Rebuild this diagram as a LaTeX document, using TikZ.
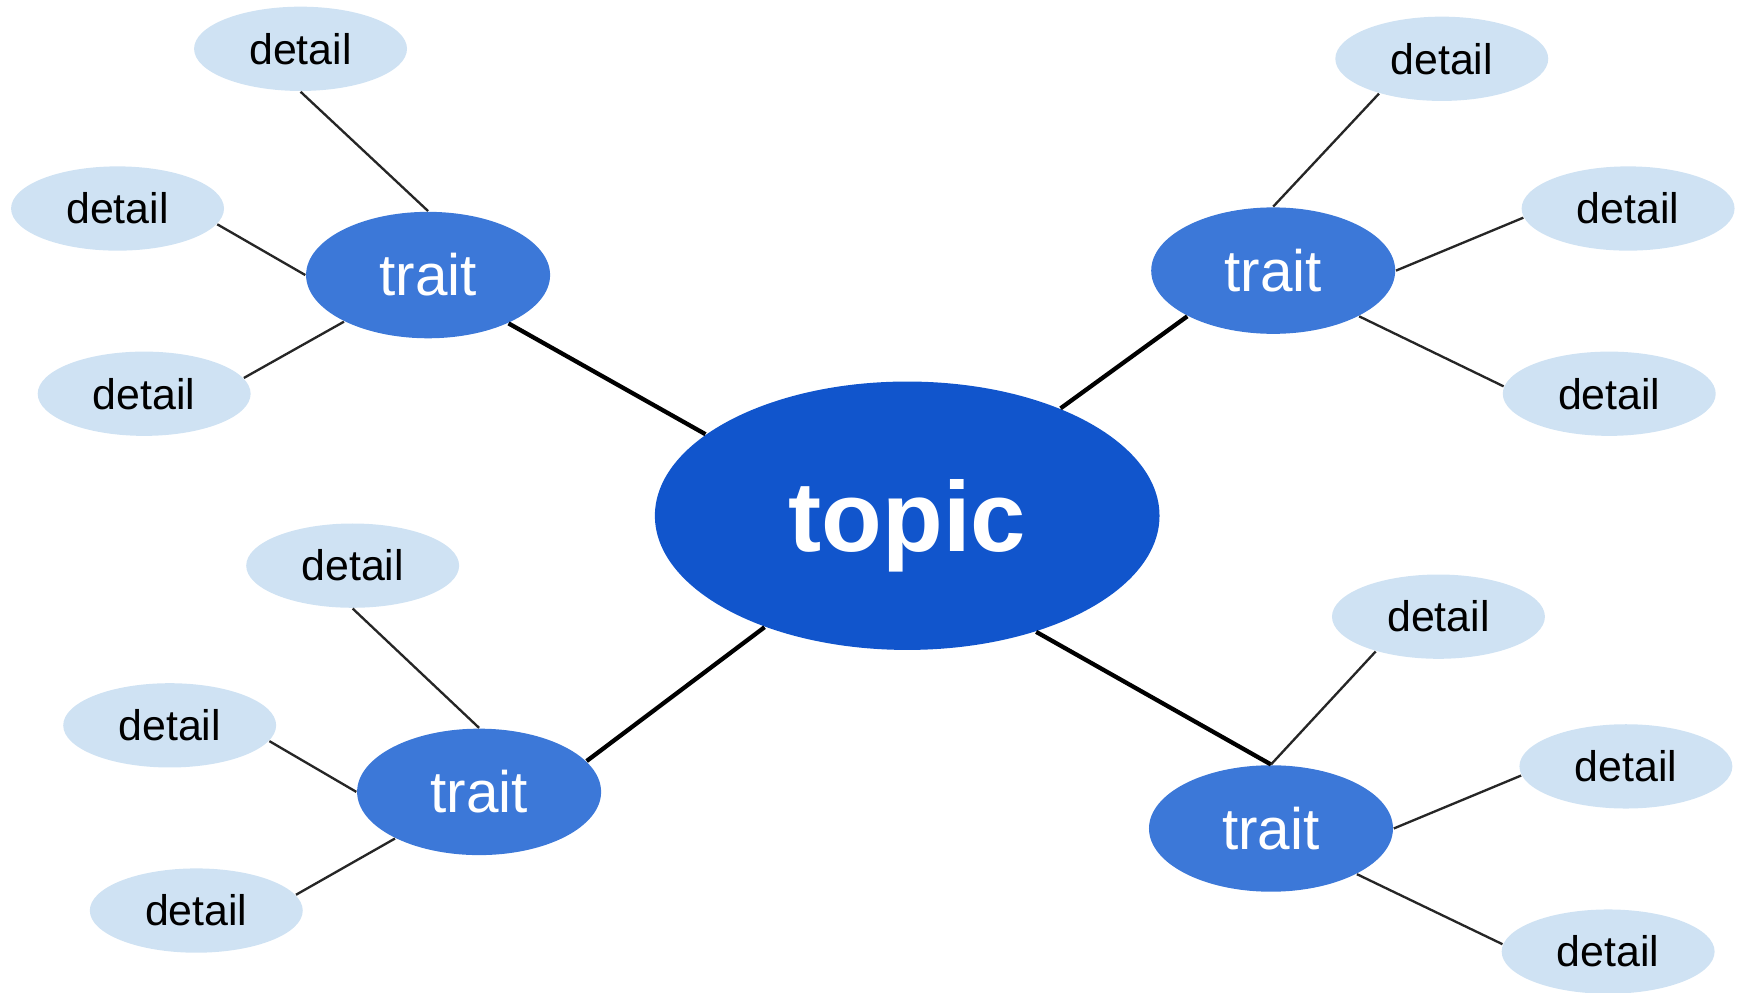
\documentclass[tikz,border=0pt]{standalone}
\usepackage{fontspec}
\setmainfont{Liberation Sans}
\usetikzlibrary{shapes.geometric, positioning}
\definecolor{topicblue}{HTML}{1155CC}
\definecolor{traitblue}{HTML}{3C78D8}
\definecolor{detailblue}{HTML}{CFE2F3}
\tikzstyle{maintopic} = [ellipse, minimum width=4.55cm, minimum height=2.42cm, inner sep=0pt, text depth=0pt, fill=topicblue, text=white, font=\fontsize{25.5}{25.5}\selectfont\bfseries]
\tikzstyle{trait} = [ellipse, minimum width=2.2cm, minimum height=1.14cm, inner sep=0pt, fill=traitblue, text=white, font=\fontsize{15}{15}\selectfont]
\tikzstyle{detail} = [ellipse, minimum width=1.92cm, minimum height=0.76cm, inner sep=0pt, fill=detailblue, text=black, font=\fontsize{11}{11}\selectfont]
\tikzstyle{branch} = [line width=1.1pt, black]
\tikzstyle{twig} = [line width=0.6pt, black!85]

\begin{document}
\begin{tikzpicture}[on grid]

    \useasboundingbox (-8.18,-4.303) rectangle (7.50,4.65);

    % Centre
    \node (topic) [maintopic] {topic};

    % Traits
    \node (trait1) [trait, above left=2.17cm and 4.32cm of topic] {trait};
    \node (trait2) [trait, above right=2.21cm and 3.30cm of topic] {trait};
    \node (trait3) [trait, below left=2.49cm and 3.86cm of topic] {trait};
    \node (trait4) [trait, below right=2.82cm and 3.28cm of topic] {trait};

    % Details, upper left
    \node (detail1a) [detail, above left=2.04cm and 1.15cm of trait1] {detail};
    \node (detail1b) [detail, above left=0.60cm and 2.80cm of trait1] {detail};
    \node (detail1c) [detail, below left=1.07cm and 2.56cm of trait1] {detail};

    % Details, upper right
    \node (detail2a) [detail, above right=1.91cm and 1.52cm of trait2] {detail};
    \node (detail2b) [detail, above right=0.56cm and 3.20cm of trait2] {detail};
    \node (detail2c) [detail, below right=1.11cm and 3.03cm of trait2] {detail};

    % Details, lower left
    \node (detail3a) [detail, above left=2.04cm and 1.14cm of trait3] {detail};
    \node (detail3b) [detail, above left=0.60cm and 2.79cm of trait3] {detail};
    \node (detail3c) [detail, below left=1.07cm and 2.55cm of trait3] {detail};

    % Details, lower right
    \node (detail4a) [detail, above right=1.91cm and 1.51cm of trait4] {detail};
    \node (detail4b) [detail, above right=0.56cm and 3.20cm of trait4] {detail};
    \node (detail4c) [detail, below right=1.11cm and 3.04cm of trait4] {detail};

    % Topic to traits
    \draw [branch] (trait1.-31) -- (topic.158);
    \draw [branch] (trait2.208) -- (topic.35);
    \draw [branch] (trait3.16) -- (topic.218);
    \draw [branch] (trait4.north) -- (topic.-42);

    % Traits to details
    \draw [twig] (detail1a.south) -- (trait1.north);
    \draw [twig] (detail1b.-9) -- (trait1.west);
    \draw [twig] (detail1c.9) -- (trait1.209);

    \draw [twig] (detail2a.209) -- (trait2.north);
    \draw [twig] (detail2b.185) -- (trait2.east);
    \draw [twig] (detail2c.176) -- (trait2.-28);

    \draw [twig] (detail3a.south) -- (trait3.north);
    \draw [twig] (detail3b.-9) -- (trait3.west);
    \draw [twig] (detail3c.9) -- (trait3.209);

    \draw [twig] (detail4a.209) -- (trait4.north);
    \draw [twig] (detail4b.185) -- (trait4.east);
    \draw [twig] (detail4c.176) -- (trait4.-28);

\end{tikzpicture}
\end{document}
